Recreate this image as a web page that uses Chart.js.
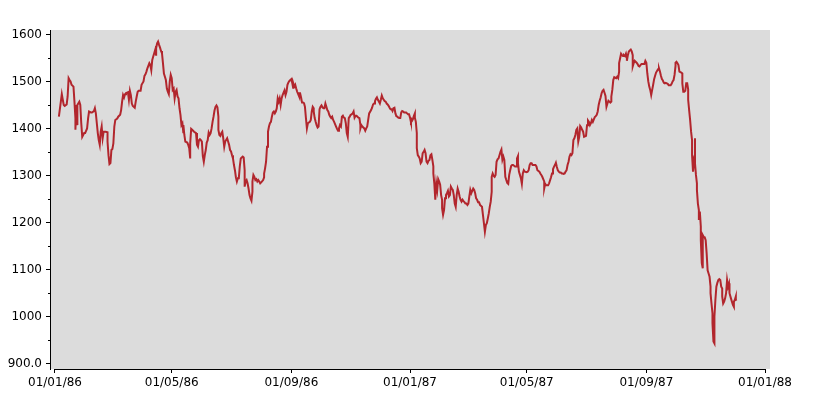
<!DOCTYPE html>
<html>
<head>
<meta charset="utf-8">
<title>Index 1986-1987</title>
<script src="https://cdn.jsdelivr.net/npm/chart.js@4.4.1/dist/chart.umd.min.js"></script>
<style>
  html, body { margin: 0; padding: 0; background: #ffffff; }
  #wrap { width: 820px; height: 400px; }
</style>
</head>
<body>
<div id="wrap"><canvas id="chart" width="820" height="400"></canvas></div>
<script>
// days counted from 01/01/86
const days = [
  4, 6, 7, 8, 9, 10, 12, 13, 14, 15,
  16, 17, 19, 20, 21, 21, 22, 23, 23, 25,
  26, 27, 28, 30, 31, 33, 34, 35, 37, 38,
  40, 41, 42, 43, 44, 45, 46, 47, 48, 49,
  50, 51, 52, 54, 54, 55, 56, 57, 58, 59,
  60, 61, 62, 64, 65, 67, 68, 69, 70, 71,
  72, 73, 75, 76, 77, 78, 79, 80, 82, 83,
  84, 85, 86, 88, 89, 91, 92, 93, 94, 95,
  97, 98, 99, 100, 101, 102, 103, 104, 104, 105,
  106, 107, 108, 109, 110, 111, 112, 113, 114, 115,
  116, 117, 118, 119, 120, 121, 122, 123, 124, 125,
  126, 127, 128, 129, 130, 131, 132, 132, 133, 134,
  136, 137, 138, 139, 139, 140, 141, 143, 145, 146,
  147, 148, 149, 150, 151, 152, 153, 154, 155, 156,
  157, 158, 159, 160, 161, 162, 163, 164, 165, 166,
  167, 168, 168, 169, 170, 171, 172, 173, 174, 175,
  177, 178, 179, 180, 181, 182, 183, 184, 185, 186,
  187, 188, 189, 190, 191, 192, 193, 194, 195, 195,
  196, 197, 198, 199, 200, 201, 202, 203, 203, 204,
  205, 206, 207, 208, 209, 210, 211, 212, 214, 215,
  215, 216, 217, 218, 219, 220, 221, 222, 223, 224,
  225, 226, 227, 228, 229, 230, 231, 232, 233, 234,
  235, 236, 237, 238, 239, 240, 241, 242, 243, 244,
  245, 245, 246, 247, 248, 249, 251, 251, 252, 253,
  254, 255, 256, 257, 258, 259, 260, 262, 263, 264,
  265, 266, 266, 267, 268, 269, 270, 271, 272, 273,
  274, 275, 276, 277, 278, 279, 280, 281, 282, 283,
  284, 285, 286, 287, 289, 290, 291, 292, 293, 294,
  295, 296, 297, 298, 299, 300, 301, 302, 303, 304,
  305, 306, 307, 308, 309, 310, 311, 312, 313, 314,
  314, 315, 316, 317, 318, 319, 320, 321, 322, 323,
  325, 326, 327, 328, 329, 330, 331, 332, 333, 334,
  335, 336, 337, 338, 339, 340, 341, 342, 343, 344,
  345, 346, 347, 348, 349, 350, 351, 352, 353, 354,
  355, 356, 357, 358, 359, 360, 361, 362, 363, 364,
  365, 366, 367, 368, 369, 370, 370, 371, 372, 372,
  373, 374, 375, 376, 377, 378, 379, 380, 381, 382,
  383, 384, 385, 386, 387, 388, 389, 389, 390, 391,
  392, 393, 394, 395, 396, 397, 398, 398, 399, 400,
  401, 402, 403, 404, 405, 406, 407, 408, 409, 410,
  411, 412, 413, 414, 415, 416, 417, 418, 419, 420,
  421, 422, 423, 424, 425, 426, 427, 428, 429, 430,
  431, 432, 433, 434, 435, 436, 437, 439, 440, 441,
  442, 443, 444, 445, 446, 447, 448, 449, 449, 450,
  451, 452, 453, 454, 455, 456, 457, 458, 459, 460,
  461, 462, 463, 464, 465, 466, 467, 468, 469, 470,
  471, 473, 474, 475, 476, 476, 477, 478, 479, 480,
  481, 482, 483, 485, 486, 487, 488, 489, 490, 491,
  492, 493, 494, 495, 496, 498, 499, 500, 501, 502,
  503, 503, 504, 505, 506, 507, 508, 510, 511, 512,
  513, 514, 515, 516, 517, 518, 519, 520, 521, 522,
  523, 524, 525, 526, 527, 528, 529, 530, 531, 532,
  533, 534, 535, 536, 537, 538, 539, 540, 541, 542,
  543, 544, 546, 547, 548, 549, 550, 551, 552, 553,
  554, 555, 556, 557, 558, 559, 560, 561, 562, 563,
  564, 565, 566, 567, 568, 569, 570, 571, 572, 572,
  573, 574, 575, 577, 578, 579, 580, 580, 581, 582,
  583, 584, 585, 586, 587, 588, 588, 589, 590, 591,
  592, 593, 594, 594, 595, 596, 597, 598, 599, 600,
  601, 602, 603, 604, 605, 606, 607, 608, 609, 610,
  611, 612, 613, 614, 615, 616, 617, 618, 620, 621,
  622, 623, 624, 625, 626, 627, 628, 629, 630, 631,
  632, 633, 634, 635, 636, 637, 638, 638, 639, 640,
  641, 642, 644, 645, 645, 646, 647, 648, 649, 650,
  651, 651, 652, 653, 654, 655, 655, 656, 657, 658,
  658, 659, 660, 660, 661, 662, 662, 663, 664, 664,
  665, 666, 666, 667, 668, 669, 670, 671, 672, 673,
  674, 674, 675, 676, 676, 677, 678, 678, 679, 680,
  681, 682, 683, 684, 685, 686, 686, 687, 688, 689,
  690, 691, 692, 693, 693, 694, 695, 696, 697, 698,
  698, 699, 700, 700, 701
];

const closes = [
  1426, 1458, 1474, 1462, 1451, 1449, 1452, 1469, 1508, 1504,
  1501, 1494, 1490, 1458, 1422, 1398, 1451, 1408, 1451, 1458,
  1451, 1412, 1383, 1391, 1391, 1401, 1422, 1437, 1435, 1435,
  1438, 1444, 1433, 1412, 1391, 1376, 1366, 1394, 1405, 1380,
  1394, 1394, 1394, 1393, 1373, 1344, 1325, 1327, 1355, 1357,
  1369, 1405, 1419, 1422, 1426, 1430, 1440, 1458, 1472, 1467,
  1474, 1476, 1478, 1462, 1481, 1472, 1454, 1449, 1445, 1458,
  1469, 1479, 1481, 1481, 1494, 1501, 1513, 1516, 1522, 1529,
  1540, 1536, 1525, 1547, 1554, 1561, 1568, 1556, 1572, 1582,
  1586, 1579, 1573, 1566, 1561, 1540, 1518, 1511, 1504, 1486,
  1479, 1474, 1501, 1515, 1508, 1483, 1486, 1465, 1479, 1483,
  1469, 1465, 1444, 1430, 1408, 1412, 1391, 1408, 1387, 1373,
  1371, 1366, 1359, 1337, 1369, 1400, 1398, 1394, 1391, 1366,
  1362, 1376, 1378, 1376, 1373, 1342, 1330, 1344, 1355, 1371,
  1376, 1392, 1387, 1391, 1401, 1415, 1426, 1439, 1447, 1450,
  1446, 1426, 1398, 1387, 1385, 1391, 1394, 1380, 1362, 1373,
  1380, 1373, 1366, 1355, 1352, 1344, 1337, 1323, 1312, 1297,
  1288, 1295, 1295, 1320, 1337, 1339, 1341, 1339, 1312, 1277,
  1288, 1291, 1284, 1273, 1259, 1252, 1247, 1266, 1288, 1302,
  1298, 1291, 1293, 1288, 1291, 1288, 1284, 1286, 1291, 1297,
  1305, 1316, 1330, 1362, 1394, 1405, 1412, 1415, 1426, 1435,
  1437, 1433, 1437, 1444, 1465, 1458, 1465, 1451, 1465, 1472,
  1477, 1482, 1472, 1479, 1494, 1499, 1502, 1504, 1506, 1497,
  1486, 1497, 1490, 1494, 1486, 1479, 1469, 1476, 1476, 1467,
  1456, 1456, 1455, 1447, 1423, 1401, 1412, 1415, 1419, 1437,
  1447, 1444, 1437, 1423, 1415, 1408, 1403, 1405, 1442, 1447,
  1450, 1446, 1444, 1444, 1454, 1447, 1440, 1437, 1430, 1426,
  1423, 1426, 1419, 1415, 1405, 1400, 1396, 1401, 1408, 1405,
  1426, 1428, 1424, 1423, 1412, 1391, 1383, 1423, 1426, 1430,
  1431, 1433, 1437, 1424, 1428, 1428, 1426, 1424, 1423, 1408,
  1401, 1408, 1405, 1403, 1401, 1396, 1401, 1405, 1419, 1433,
  1440, 1445, 1452, 1454, 1459, 1464, 1467, 1462, 1458, 1454,
  1462, 1471, 1465, 1462, 1459, 1458, 1454, 1452, 1449, 1445,
  1442, 1442, 1438, 1444, 1445, 1433, 1427, 1426, 1424, 1423,
  1423, 1435, 1438, 1437, 1435, 1435, 1435, 1433, 1431, 1431,
  1424, 1414, 1417, 1421, 1428, 1433, 1424, 1415, 1391, 1359,
  1344, 1341, 1337, 1327, 1330, 1348, 1351, 1355, 1348, 1330,
  1327, 1332, 1334, 1344, 1346, 1334, 1320, 1305, 1284, 1249,
  1284, 1270, 1293, 1288, 1281, 1259, 1249, 1231, 1217, 1227,
  1252, 1259, 1263, 1268, 1256, 1259, 1277, 1273, 1270, 1259,
  1241, 1234, 1259, 1273, 1266, 1256, 1249, 1245, 1249, 1246,
  1244, 1241, 1241, 1238, 1241, 1256, 1270, 1263, 1268, 1273,
  1270, 1263, 1252, 1249, 1244, 1244, 1238, 1234, 1217, 1199,
  1181, 1195, 1199, 1209, 1220, 1234, 1245, 1266, 1298, 1305,
  1300, 1298, 1302, 1330, 1335, 1337, 1344, 1351, 1356, 1334,
  1341, 1334, 1298, 1291, 1285, 1283, 1302, 1312, 1321, 1323,
  1323, 1320, 1320, 1337, 1342, 1327, 1309, 1302, 1295, 1283,
  1305, 1312, 1309, 1308, 1309, 1312, 1323, 1327, 1327, 1323,
  1323, 1323, 1323, 1320, 1312, 1309, 1305, 1302, 1298, 1293,
  1288, 1273, 1283, 1280, 1280, 1280, 1284, 1297, 1305, 1314,
  1319, 1323, 1328, 1319, 1312, 1309, 1307, 1307, 1305, 1305,
  1304, 1305, 1309, 1312, 1323, 1330, 1341, 1346, 1344, 1348,
  1376, 1380, 1387, 1398, 1401, 1373, 1383, 1406, 1403, 1398,
  1394, 1383, 1385, 1408, 1418, 1415, 1408, 1412, 1419, 1415,
  1420, 1425, 1427, 1430, 1437, 1451, 1460, 1467, 1476, 1481,
  1483, 1477, 1470, 1447, 1454, 1460, 1458, 1456, 1458, 1469,
  1483, 1504, 1510, 1508, 1511, 1508, 1522, 1540, 1550, 1560,
  1557, 1555, 1557, 1555, 1560, 1550, 1545, 1557, 1565, 1567,
  1569, 1565, 1557, 1533, 1540, 1545, 1543, 1541, 1538, 1534,
  1533, 1536, 1538, 1538, 1538, 1538, 1545, 1541, 1518, 1501,
  1490, 1483, 1472, 1483, 1494, 1506, 1513, 1520, 1527, 1529,
  1522, 1513, 1506, 1503, 1498, 1497, 1498, 1497, 1496, 1493,
  1493, 1493, 1496, 1501, 1504, 1515, 1534, 1541, 1543, 1540,
  1536, 1522, 1520, 1518, 1497, 1479, 1479, 1481, 1497, 1497,
  1484, 1462, 1440, 1419, 1394, 1376, 1344, 1309, 1334, 1380,
  1327, 1302, 1284, 1270, 1241, 1227, 1206, 1224, 1192, 1163,
  1114, 1103, 1174, 1170, 1169, 1163, 1135, 1099, 1092, 1085,
  1064, 1050, 1028, 1007, 986, 947, 943, 1000, 1036, 1064,
  1072, 1078, 1080, 1078, 1064, 1060, 1043, 1028, 1032, 1039,
  1050, 1078, 1064, 1071, 1057, 1050, 1039, 1032, 1025, 1021,
  1032, 1036, 1043, 1036, 1037
];

// axes
const xTickDays = [0, 120, 243, 365, 485, 608, 730];
const xTickLabels = ["01/01/86", "01/05/86", "01/09/86", "01/01/87", "01/05/87", "01/09/87", "01/01/88"];
const yTickValues = [900, 1000, 1100, 1200, 1300, 1400, 1500, 1600];
const yTickLabels = ["900.0", "1000", "1100", "1200", "1300", "1400", "1500", "1600"];
const yMinorTicks = [950, 1050, 1150, 1250, 1350, 1450, 1550];

Chart.defaults.font.family = "'DejaVu Sans', sans-serif";
Chart.defaults.font.size = 12;
Chart.defaults.color = "#000";

// 灰色の背景と軸線
const plotDecor = {
  id: "plotDecor",
  beforeDraw(c) {
    const a = c.chartArea, g = c.ctx;
    g.save();
    g.fillStyle = "#dcdcdc";
    g.fillRect(a.left, a.top, a.right - a.left, a.bottom - a.top);
    g.restore();
  },
  afterDraw(c) {
    const g = c.ctx, x = c.scales.x, y = c.scales.y;
    g.save();
    g.strokeStyle = "#000";
    g.lineWidth = 1;
    // x axis line only over the axis range
    const yb = Math.round(c.chartArea.bottom) + 0.5;
    g.beginPath();
    g.moveTo(x.getPixelForValue(xTickDays[0]), yb);
    g.lineTo(x.getPixelForValue(xTickDays[xTickDays.length - 1]), yb);
    g.stroke();
    // minor ticks on y
    const xl = Math.round(c.chartArea.left);
    for (const v of yMinorTicks) {
      const py = Math.round(y.getPixelForValue(v)) + 0.5;
      g.beginPath();
      g.moveTo(xl - 2, py);
      g.lineTo(xl, py);
      g.stroke();
    }
    g.restore();
  }
};

const points = days.map((d, i) => ({ x: d, y: closes[i] }));

new Chart(document.getElementById("chart").getContext("2d"), {
  type: "line",
  data: {
    datasets: [{
      data: points,
      borderColor: "#b2262d",
      borderWidth: 2,
      pointRadius: 0,
      tension: 0,
      fill: false
    }]
  },
  options: {
    responsive: false,
    animation: false,
    devicePixelRatio: 1,
    layout: { padding: { top: 30, right: 50, left: 0, bottom: 0 } },
    plugins: {
      legend: { display: false },
      tooltip: { enabled: false }
    },
    scales: {
      x: {
        type: "linear",
        min: -5.14,
        max: 735.14,
        afterBuildTicks: s => { s.ticks = xTickDays.map(v => ({ value: v })); },
        afterFit: s => { s.height = 31; },
        ticks: {
          autoSkip: false,
          maxRotation: 0,
          padding: 3,
          color: "#000",
          callback: (v, i) => xTickLabels[i]
        },
        grid: { display: true, drawOnChartArea: false, drawTicks: true, tickLength: 4, color: "#000" },
        border: { display: false }
      },
      y: {
        min: 888.6,
        max: 1610.6,
        afterBuildTicks: s => { s.ticks = yTickValues.map(v => ({ value: v })); },
        afterFit: s => { s.width = 50; },
        ticks: {
          padding: 4,
          color: "#000",
          callback: (v, i) => yTickLabels[i]
        },
        grid: { display: true, drawOnChartArea: false, drawTicks: true, tickLength: 4, color: "#000" },
        border: { display: true, color: "#000" }
      }
    }
  },
  plugins: [plotDecor]
});
</script>
</body>
</html>
